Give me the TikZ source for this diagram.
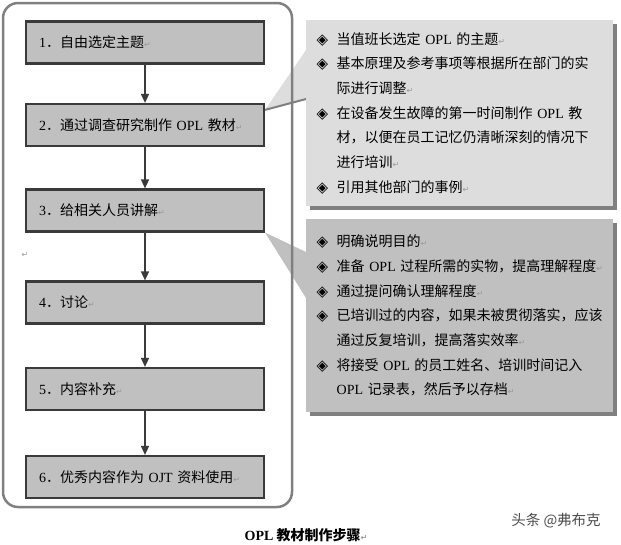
\documentclass[tikz,border=0pt]{standalone}
\usepackage{fontspec}
\setmainfont{Liberation Serif}
\newfontfamily\cjk{Noto Sans CJK SC}
\newfontfamily\dejavu{DejaVu Sans}
\usetikzlibrary{arrows.meta,positioning,shadows,backgrounds}
\definecolor{oplstep}{RGB}{192,192,192}
\definecolor{oplline}{RGB}{58,58,58}
\definecolor{opllight}{RGB}{221,221,221}
\definecolor{oplshade}{RGB}{128,128,128}
\definecolor{oplframe}{RGB}{128,128,128}
\newcommand{\en}[1]{{\rmfamily #1}}
\newcommand{\bul}{\makebox[21pt][l]{\hspace{1pt}{\dejavu\fontsize{15}{15}\selectfont ◈}}}
\newcommand{\oplind}{\hspace*{21pt}}
\newcommand{\rmark}{{\dejavu\color{black!40}\fontsize{8}{8}\selectfont ↵}}

\begin{document}
\begin{tikzpicture}[x=1pt, y=-1pt,
  stepbox/.style={draw=oplline, line width=2.2pt, fill=oplstep, minimum width=238, minimum height=42,
    text width=212, inner xsep=13, align=left, font=\cjk\fontsize{14}{17}\selectfont},
  notebox/.style={anchor=north west, minimum width=307, text width=288, inner xsep=9.5, align=left,
    font=\cjk\fontsize{14}{24.7}\selectfont,
    drop shadow={shadow xshift=4pt, shadow yshift=-4pt, fill=oplshade, opacity=1}},
  steparrow/.style={draw=oplline, line width=1.5pt, -{Triangle[length=9pt, width=8pt]}}]
\useasboundingbox (0,0) rectangle (621,544);

% === Steps ===
\node[stepbox] (s1) at (145, 42.5) {\en{1}．自由选定主题\rmark};
\node[stepbox] (s2) at (145, 125)  {\en{2}．通过调查研究制作 \en{OPL} 教材\rmark};
\node[stepbox] (s3) at (145, 210.5) {\en{3}．给相关人员讲解\rmark};
\node[stepbox] (s4) at (145, 302.5) {\en{4}．讨论\rmark};
\node[stepbox] (s5) at (145, 389)  {\en{5}．内容补充\rmark};
\node[stepbox] (s6) at (145, 477)  {\en{6}．优秀内容作为 \en{OJT} 资料使用\rmark};

\draw[steparrow] (s1) -- (s2);
\draw[steparrow] (s2) -- (s3);
\draw[steparrow] (s3) -- (s4);
\draw[steparrow] (s4) -- (s5);
\draw[steparrow] (s5) -- (s6);

% === Notes ===
\node[notebox, fill=opllight, minimum height=186] (n1) at (306, 20) {%
  \bul 当值班长选定 \en{OPL} 的主题\rmark\\
  \bul 基本原理及参考事项等根据所在部门的实\\
  \oplind 际进行调整\rmark\\
  \bul 在设备发生故障的第一时间制作 \en{OPL} 教\\
  \oplind 材，以便在员工记忆仍清晰深刻的情况下\\
  \oplind 进行培训\rmark\\
  \bul 引用其他部门的事例\rmark};

\node[notebox, fill=oplstep, minimum height=193] (n2) at (306, 219) {%
  \bul 明确说明目的\rmark\\
  \bul 准备 \en{OPL} 过程所需的实物，提高理解程度\rmark\\
  \bul 通过提问确认理解程度\rmark\\
  \bul 已培训过的内容，如果未被贯彻落实，应该\\
  \oplind 通过反复培训，提高落实效率\rmark\\
  \bul 将接受 \en{OPL} 的员工姓名、培训时间记入\\
  \oplind \en{OPL} 记录表，然后予以存档\rmark};

% callout wedges and frame behind
\begin{pgfonlayer}{background}
\coordinate (t1) at ([yshift=-7pt]s2.north east);
\fill[opllight] (t1) -- ([yshift=-30pt]n1.north west) -- ([yshift=-78pt]n1.north west) -- cycle;
\draw[oplshade, line width=2pt] (t1) -- ([yshift=-79pt]n1.north west);
\fill[oplstep] (s3.south east) -- ([yshift=-33pt]n2.north west) -- ([yshift=-79pt]n2.north west) -- cycle;
\draw[oplframe, line width=2.5pt, rounded corners=15pt] (3,3) rectangle (292,507);
\end{pgfonlayer}

% Labels
\node[inner sep=0pt] (pm) at (25, 255) {\rmark};
\node[font=\cjk\bfseries\fontsize{14}{17}\selectfont] (cap) at (306, 535) {\en{OPL} 教材制作步骤\rmark};
\node[font=\cjk\fontsize{14.5}{17}\selectfont, text=black!70] (wm) at (556, 521) {头条 @弗布克};

\end{tikzpicture}
\end{document}
